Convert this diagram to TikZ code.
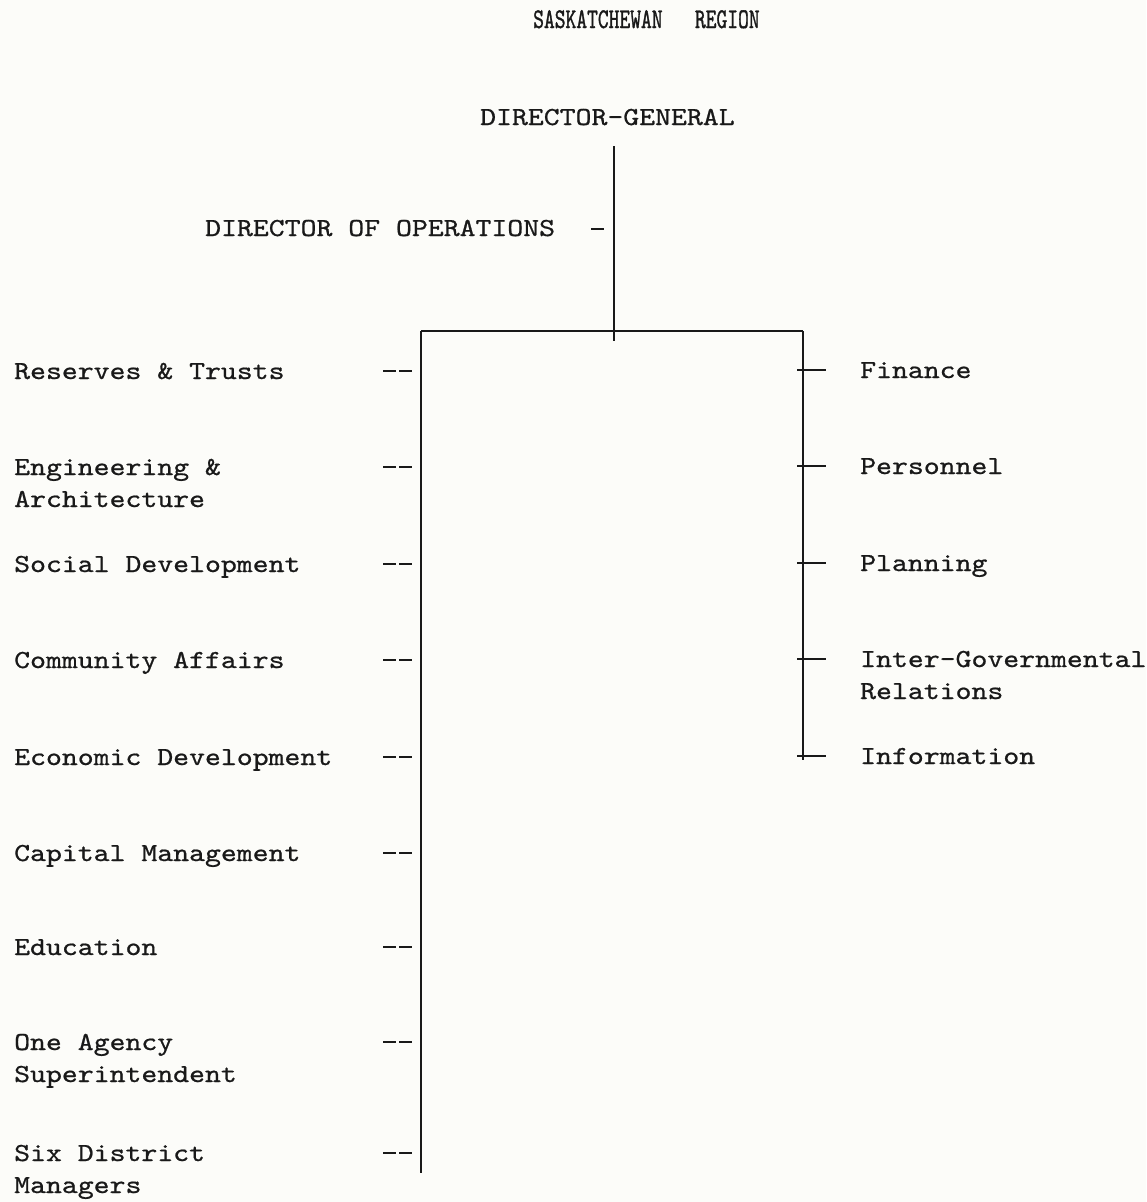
\documentclass[tikz,border=0pt]{standalone}
\usepackage{graphicx}
\usepackage{fontspec}
\newfontfamily\twfont{lmmono10-regular.otf}[FakeBold=0.7]
\newfontfamily\ttlfont{lmmono10-regular.otf}[FakeBold=1.4]
\newcommand\twx[1]{\scalebox{1.165}[1]{#1}}
\newcommand\tcond[1]{\scalebox{0.79}[1.1]{#1}}
\definecolor{paper}{RGB}{252,252,249}
\definecolor{ink}{RGB}{25,25,25}
\begin{document}
\begin{tikzpicture}[x=1pt,y=-1pt,
  lbl/.style={anchor=base west, inner sep=0pt, text=ink, font=\twfont\fontsize{26}{32}\selectfont},
  ttl/.style={lbl, font=\ttlfont\fontsize{26}{32}\selectfont},
  ln/.style={draw=ink, line width=1.7pt},
  dsh/.style={draw=ink, line width=1.9pt, dash pattern=on 13pt off 3pt},
  tick/.style={draw=ink, line width=1.7pt}]
\fill[paper] (0,0) rectangle (1146,1202);
\useasboundingbox (0,0) rectangle (1146,1202);

\node[ttl] (title) at (533,28) {\tcond{SASKATCHEWAN~~~REGION}};
\node[lbl] (dg) at (480,125) {\twx{DIRECTOR-GENERAL}};
\node[lbl] (doo) at (205,236) {\twx{DIRECTOR OF OPERATIONS}};

% left column
\node[lbl] (res) at (14,379) {\twx{Reserves \& Trusts}};
\node[lbl] (eng) at (14,475) {\twx{\begin{tabular}[t]{@{}l@{}}Engineering \&\\Architecture\end{tabular}}};
\node[lbl] (soc) at (14,572) {\twx{Social Development}};
\node[lbl] (com) at (14,668) {\twx{Community Affairs}};
\node[lbl] (eco) at (14,765) {\twx{Economic Development}};
\node[lbl] (cap) at (14,861) {\twx{Capital Management}};
\node[lbl] (edu) at (14,955) {\twx{Education}};
\node[lbl] (one) at (14,1050) {\twx{\begin{tabular}[t]{@{}l@{}}One Agency\\Superintendent\end{tabular}}};
\node[lbl] (six) at (14,1161) {\twx{\begin{tabular}[t]{@{}l@{}}Six District\\Managers\end{tabular}}};

% right column
\node[lbl] (fin) at (860,378) {\twx{Finance}};
\node[lbl] (per) at (860,474) {\twx{Personnel}};
\node[lbl] (pla) at (860,571) {\twx{Planning}};
\node[lbl] (int) at (860,667) {\twx{\begin{tabular}[t]{@{}l@{}}Inter-Governmental\\Relations\end{tabular}}};
\node[lbl] (inf) at (860,764) {\twx{Information}};

% trunk lines
\coordinate (dgtop) at (614,146);
\coordinate (dgbot) at (614,341);
\coordinate (barL) at (421,331);
\coordinate (barR) at (803,331);
\coordinate (leftEnd) at (421,1173);
\coordinate (rightEnd) at (803,760);
\draw[ln] (dgtop) -- (dgbot);
\draw[ln] (barL) -- (barR);
\draw[ln] (barL) -- (leftEnd);
\draw[ln] (barR) -- (rightEnd);

% director of operations dash
\coordinate (dooA) at (591,229);
\coordinate (dooB) at (604,229);
\draw[tick] (dooA) -- (dooB);

% left dashes
\foreach \n/\y in {res/371,eng/467,soc/564,com/660,eco/757,cap/853,edu/947,one/1042,six/1153}{
  \coordinate (\n A) at (383,\y);
  \coordinate (\n B) at (413,\y);
  \draw[dsh] (\n A) -- (\n B);
}
% right dashes
\foreach \n/\y in {fin/370,per/466,pla/563,int/659,inf/756}{
  \coordinate (\n A) at (797,\y);
  \coordinate (\n B) at (826,\y);
  \draw[tick] (\n A) -- (\n B);
}
\end{tikzpicture}
\end{document}
